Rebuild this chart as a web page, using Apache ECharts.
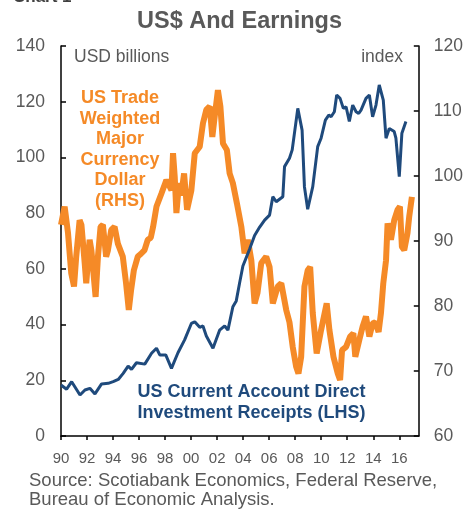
<!DOCTYPE html>
<html>
<head>
<meta charset="utf-8">
<script src="https://cdn.jsdelivr.net/npm/echarts@6/dist/echarts.min.js"></script>
<style>
html,body{margin:0;padding:0;background:#fff;}
#chart{width:466px;height:510px;}
</style>
</head>
<body>
<div id="chart"></div>
<script>
// X tick labels (years)
var yearTicks = [1990,1992,1994,1996,1998,2000,2002,2004,2006,2008,2010,2012,2014,2016];

// US Current Account Direct Investment Receipts (LHS, USD billions)
var blueDates = [1990.0,1990.43,1990.82,1991.46,1991.84,1992.22,1992.61,1993.12,1993.63,1994.01,1994.4,1994.78,1995.16,1995.42,1995.8,1996.44,1996.96,1997.34,1997.59,1998.05,1998.49,1998.99,1999.5,2000.02,2000.28,2000.66,2000.91,2001.17,2001.68,2002.19,2002.58,2002.83,2003.21,2003.47,2003.73,2003.98,2004.49,2004.88,2005.27,2005.65,2006.03,2006.28,2006.54,2007.05,2007.18,2007.56,2007.77,2008.2,2008.53,2008.71,2008.96,2009.35,2009.73,2009.99,2010.32,2010.58,2010.76,2011.01,2011.19,2011.45,2011.7,2011.91,2012.16,2012.42,2012.68,2012.88,2013.06,2013.44,2013.7,2013.95,2014.21,2014.46,2014.77,2014.98,2015.23,2015.61,2015.74,2016.0,2016.2,2016.51];
var blueValues = [18.3,16.8,19.5,14.7,16.5,17.1,15.1,18.7,18.9,19.5,20.3,22.5,25.1,23.9,26.3,25.8,29.7,31.5,29.1,29.1,24.3,29.9,34.5,40.4,41,39,39.5,35.9,31.5,38,39.5,38,46.4,48.5,55,61,67,72,75,77.5,79.3,85.9,84.1,85.9,96.7,99.7,102.7,117.6,109.8,89.5,81.4,89.5,103.9,106.9,113.4,115.2,114.6,116.4,122.4,121.2,117.6,118.2,112.9,118.8,116.4,115.8,117,121.2,122.4,114.6,118.8,126,120.6,106.9,110.4,109.3,106.9,93.1,108.7,112.9];

// US Trade Weighted Major Currency Dollar (RHS, index)
var orangeDates = [1990.0,1990.28,1990.54,1990.79,1991.0,1991.17,1991.43,1991.57,1991.82,1991.94,1992.2,1992.34,1992.66,1992.84,1993.04,1993.22,1993.47,1993.6,1993.86,1994.12,1994.37,1994.75,1995.0,1995.21,1995.39,1995.6,1995.9,1996.13,1996.42,1996.67,1996.9,1997.08,1997.34,1997.72,1998.1,1998.49,1998.61,1998.74,1998.87,1999.07,1999.24,1999.46,1999.69,2000.02,2000.28,2000.66,2000.91,2001.17,2001.43,2001.63,2001.81,2002.06,2002.25,2002.45,2002.75,2002.96,2003.21,2003.52,2003.86,2004.11,2004.36,2004.63,2004.88,2005.1,2005.39,2005.77,2006.03,2006.28,2006.41,2006.66,2006.93,2007.31,2007.56,2007.81,2008.07,2008.25,2008.46,2008.71,2008.96,2009.15,2009.35,2009.65,2009.99,2010.42,2010.63,2010.94,2011.27,2011.45,2011.6,2011.91,2012.22,2012.47,2012.62,2012.93,2013.18,2013.44,2013.7,2013.95,2014.16,2014.41,2014.59,2014.77,2014.98,2015.1,2015.36,2015.61,2015.87,2016.05,2016.2,2016.38,2016.63,2016.76,2016.97];
var orangeValues = [92.5,95.3,91.2,85,83,87.6,93.2,92.5,86.6,83.5,90.2,88.5,81.4,87.6,92.2,92.5,87.6,88.5,91.7,92.2,89.6,87.6,83.5,79.4,82.5,85.5,87.6,88,88.6,90.2,90.5,92.2,95.3,97.3,99.4,97.8,103.5,99.9,94.3,98.9,97,100.4,94.8,97.8,103.5,104.5,108.1,110.2,110.7,106,109.1,113.2,110.7,105,104,100.4,98.9,95.8,92.2,88.1,90.2,87,80.4,82,86.6,87.6,86,80.4,80.5,83,83.5,79.4,77.5,73.7,70.7,69.6,72.2,83,85.5,86,78.9,72.7,76.3,80.4,76.3,72.2,69.6,68.6,73.2,73.7,75.3,75.8,72.2,74.8,76.8,78.4,75.3,77.3,77.5,76,78.9,83.5,87,92.7,90.2,93.2,94.8,95.3,89.1,88.6,91.2,93.7,96.8];

var FONT = 'Liberation Sans, Arial, sans-serif';
var GRAY = '#595959';
var ORANGE = '#F58A27';
var BLUE = '#1F4A7C';

function zip(a, b) { return a.map(function (v, i) { return [v, b[i]]; }); }

var chart = echarts.init(document.getElementById('chart'), null, { renderer: 'canvas' });
chart.setOption({
  animation: false,
  backgroundColor: '#fff',
  grid: { left: 61, right: 47, top: 46, bottom: 74, containLabel: false },
  xAxis: {
    type: 'value', min: 1990, max: 2017.5, interval: 2,
    axisLine: { show: true, lineStyle: { color: '#000', width: 1.5 } },
    axisTick: { show: true, inside: false, length: 4, lineStyle: { color: '#000', width: 1.5 }, customValues: yearTicks },
    axisLabel: {
      customValues: yearTicks,
      color: GRAY, fontFamily: FONT, fontSize: 15, margin: 15,
      formatter: function (v) { if (v % 2 !== 0) return ''; var s = String(v % 100); return s.length < 2 ? '0' + s : s; }
    },
    splitLine: { show: false }
  },
  yAxis: [{
    type: 'value', min: 0, max: 140, interval: 20, position: 'left',
    axisLine: { show: true, lineStyle: { color: '#000', width: 1.5 } },
    axisTick: { show: true, inside: true, length: 5, lineStyle: { color: '#000', width: 1.5 } },
    axisLabel: { color: GRAY, fontFamily: FONT, fontSize: 17.5, margin: 16 },
    splitLine: { show: false }
  }, {
    type: 'value', min: 60, max: 120, interval: 10, position: 'right',
    axisLine: { show: true, lineStyle: { color: '#000', width: 1.5 } },
    axisTick: { show: true, inside: true, length: 5, lineStyle: { color: '#000', width: 1.5 } },
    axisLabel: { color: GRAY, fontFamily: FONT, fontSize: 17.5, margin: 15 },
    splitLine: { show: false }
  }],
  series: [{
    name: 'US Trade Weighted Major Currency Dollar (RHS)',
    type: 'line', yAxisIndex: 1, showSymbol: false, symbol: 'none',
    lineStyle: { color: ORANGE, width: 6 },
    itemStyle: { color: ORANGE },
    data: zip(orangeDates, orangeValues)
  }, {
    name: 'US Current Account Direct Investment Receipts (LHS)',
    type: 'line', yAxisIndex: 0, showSymbol: false, symbol: 'none',
    lineStyle: { color: BLUE, width: 3 },
    itemStyle: { color: BLUE },
    data: zip(blueDates, blueValues)
  }],
  graphic: [
    { type: 'text', x: 13, y: -3, style: { text: 'Chart 1', font: 'bold 17px ' + FONT, fill: '#404040', align: 'left', verticalAlign: 'middle' } },
    { type: 'text', x: 239.5, y: 22, style: { text: 'US$ And Earnings', font: 'bold 23.5px ' + FONT, fill: GRAY, align: 'center', verticalAlign: 'middle' } },
    { type: 'text', x: 74, y: 57, style: { text: 'USD billions', font: '17.5px ' + FONT, fill: GRAY, align: 'left', verticalAlign: 'middle' } },
    { type: 'text', x: 403, y: 57, style: { text: 'index', font: '17.5px ' + FONT, fill: GRAY, align: 'right', verticalAlign: 'middle' } },
    { type: 'text', x: 120, y: 149.5, style: { text: 'US Trade\nWeighted\nMajor\nCurrency\nDollar\n(RHS)', font: 'bold 18px ' + FONT, lineHeight: 20.5, fill: ORANGE, align: 'center', verticalAlign: 'middle' } },
    { type: 'text', x: 251.5, y: 402.5, style: { text: 'US Current Account Direct\nInvestment Receipts (LHS)', font: 'bold 18px ' + FONT, lineHeight: 21, fill: BLUE, align: 'center', verticalAlign: 'middle' } },
    { type: 'text', x: 29, y: 472, style: { text: 'Source: Scotiabank Economics, Federal Reserve,\nBureau of Economic Analysis.', font: '18.5px ' + FONT, lineHeight: 18.5, fill: GRAY, align: 'left', verticalAlign: 'top' } }
  ]
});
</script>
</body>
</html>
